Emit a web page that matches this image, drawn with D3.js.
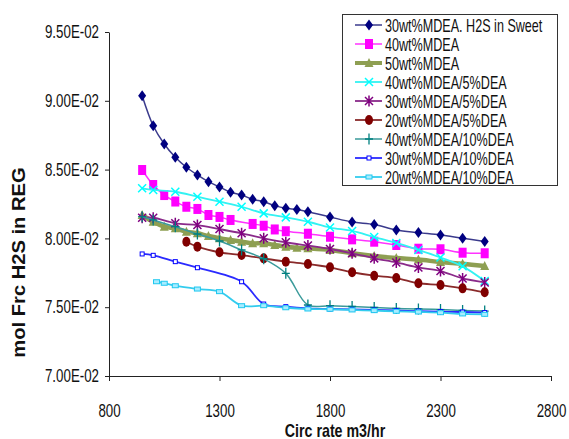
<!DOCTYPE html>
<html><head><meta charset="utf-8">
<script src="https://cdn.jsdelivr.net/npm/d3@7"></script>
<style>body{margin:0;background:#fff}svg{display:block}text{font-family:"Liberation Sans",Arial,sans-serif;fill:#111}</style>
</head><body><svg id="c" width="569" height="439"></svg>
<script>
// ---- data ----
const xTicks = [800, 1300, 1800, 2300, 2800];
const yTicks = [0.07, 0.075, 0.08, 0.085, 0.09, 0.095];
const yTickLabels = ["7.00E-02", "7.50E-02", "8.00E-02", "8.50E-02", "9.00E-02", "9.50E-02"];
const seriesNames = ["30wt%MDEA. H2S in Sweet", "40wt%MDEA", "50wt%MDEA", "40wt%MDEA/5%DEA", "30wt%MDEA/5%DEA",
  "20wt%MDEA/5%DEA", "40wt%MDEA/10%DEA", "30wt%MDEA/10%DEA", "20wt%MDEA/10%DEA"];

const x1 = [950,1000,1050,1100,1150,1200,1250,1300,1350,1400,1450,1500,1550,1600,1650,1700,1800,1900,2000,2100,2200,2300,2400,2500];
const y1 = [0.09037,0.08819,0.08686,0.08589,0.08517,0.08461,0.08412,0.08374,0.08335,0.08315,0.08284,0.08267,0.08238,0.08219,0.0821,0.08194,0.08156,0.08119,0.08101,0.08061,0.08042,0.08025,0.08001,0.07978];
const x2 = [950,1000,1050,1100,1150,1200,1250,1300,1350,1450,1500,1550,1600,1700,1800,1900,2000,2100,2200,2300,2400,2500];
const y2 = [0.08497,0.08388,0.08315,0.08268,0.0823,0.08214,0.0817,0.08156,0.08134,0.08105,0.08092,0.08065,0.08052,0.08034,0.08012,0.07993,0.07976,0.07952,0.07925,0.07921,0.07896,0.07892];
const x3 = [950,1000,1050,1100,1150,1200,1250,1300,1350,1400,1450,1500,1550,1600,1650,1700,1800,1900,2000,2100,2200,2300,2400,2500];
const y3 = [0.0817,0.08121,0.08085,0.08073,0.08049,0.08037,0.08017,0.08001,0.07988,0.07976,0.07964,0.07964,0.07952,0.0794,0.07932,0.07928,0.07916,0.07892,0.07872,0.07857,0.07846,0.07828,0.07815,0.07799];
const x4 = [950,1000,1100,1200,1300,1400,1500,1600,1700,1800,1900,2000,2100,2200,2300,2400,2500];
const y4 = [0.08364,0.08352,0.08339,0.08303,0.08267,0.0823,0.08182,0.08153,0.08121,0.08079,0.08054,0.0801,0.07967,0.07916,0.07861,0.07797,0.0769];
const x5 = [950,1000,1100,1200,1300,1400,1500,1600,1700,1800,1900,2000,2100,2200,2300,2400,2500];
const y5 = [0.0815,0.0815,0.0811,0.08097,0.08068,0.08037,0.08001,0.07972,0.07948,0.07923,0.07892,0.07855,0.07825,0.07789,0.07763,0.07709,0.0768];
const x6 = [1150,1200,1300,1400,1500,1600,1700,1800,1900,2000,2100,2200,2300,2400,2500];
const y6 = [0.07976,0.0794,0.07899,0.07879,0.07855,0.07831,0.07814,0.0779,0.07754,0.07729,0.07712,0.07674,0.07661,0.07637,0.07608];
const x7 = [950,1000,1100,1200,1300,1400,1500,1600,1700,1800,1900,2000,2100,2200,2300,2400,2500];
const y7 = [0.08158,0.08134,0.08085,0.08032,0.07981,0.07916,0.07852,0.07746,0.07516,0.07511,0.07505,0.07498,0.07491,0.07487,0.07483,0.07476,0.07472];
const x8 = [950,1000,1100,1200,1400,1500,1600,1700,1800,1900,2000,2100,2200,2300,2400,2500];
const y8 = [0.07887,0.07877,0.07831,0.07787,0.07685,0.07523,0.07504,0.07492,0.07487,0.07484,0.0748,0.07476,0.07472,0.07468,0.07465,0.07461];
const x9 = [1015,1050,1100,1200,1300,1400,1500,1600,1700,1800,1900,2000,2100,2200,2300,2400,2500];
const y9 = [0.07685,0.07674,0.07656,0.07632,0.07613,0.07511,0.07511,0.07496,0.07487,0.07485,0.0748,0.07475,0.0747,0.07465,0.0746,0.07451,0.07448];

// ---- styles ----
const styles = [
  {color:"#000080", line:"#3a3a8c", lw:1.5, m:"diamond"},
  {color:"#ff00ff", line:"#ff33ff", lw:1.5, m:"square"},
  {color:"#8e9f52", line:"#8e9f52", lw:4.5, m:"triangle"},
  {color:"#00ffff", line:"#33f2f2", lw:1.8, m:"x"},
  {color:"#800080", line:"#8a2a8a", lw:1.8, m:"star"},
  {color:"#800000", line:"#8a2a2a", lw:1.8, m:"circle"},
  {color:"#008080", line:"#3a9a9a", lw:1.5, m:"plus"},
  {color:"#0000ff", line:"#2a2aff", lw:1.8, m:"smallsq"},
  {color:"#1ec8f0", line:"#33ccee", lw:1.8, m:"rect"}
];
const seriesX = [x1,x2,x3,x4,x5,x6,x7,x8,x9];
const seriesY = [y1,y2,y3,y4,y5,y6,y7,y8,y9];

const svg = d3.select("#c");
const x = d3.scaleLinear().domain([800, 2800]).range([109, 551]);
const y = d3.scaleLinear().domain([0.07, 0.095]).range([376, 32]);

function marker(g, type, c) {
  switch (type) {
    case "diamond": g.append("path").attr("d","M0,-5.5L4,0L0,5.5L-4,0Z").attr("fill",c); break;
    case "square": g.append("rect").attr("x",-4).attr("y",-5).attr("width",8).attr("height",10).attr("fill",c); break;
    case "triangle": g.append("path").attr("d","M0,-5L4.5,4L-4.5,4Z").attr("fill",c); break;
    case "x": g.append("path").attr("d","M-4,-4L4,4M-4,4L4,-4").attr("stroke",c).attr("stroke-width",1.5).attr("fill","none"); break;
    case "star": g.append("path").attr("d","M-4,-4L4,4M-4,4L4,-4M0,-5.5L0,5.5").attr("stroke",c).attr("stroke-width",1.5).attr("fill","none"); break;
    case "circle": g.append("ellipse").attr("rx",4).attr("ry",5).attr("fill",c); break;
    case "plus": g.append("path").attr("d","M-4,0L4,0M0,-5.5L0,5.5").attr("stroke",c).attr("stroke-width",1.3).attr("fill","none"); break;
    case "smallsq": g.append("rect").attr("x",-2).attr("y",-2).attr("width",4).attr("height",4).attr("fill","#fff").attr("stroke",c).attr("stroke-width",1); break;
    case "rect": g.append("rect").attr("x",-3).attr("y",-2).attr("width",6).attr("height",4).attr("fill","#a8ecff").attr("stroke",c).attr("stroke-width",1); break;
  }
}

// ---- axes ----
const tsx = 0.74;
const yAxis = d3.axisLeft(y).tickValues(yTicks).tickSize(4).tickSizeOuter(0)
  .tickFormat((d, i) => yTickLabels[i]);
const gy = svg.append("g").attr("transform","translate(109,0)").call(yAxis);
gy.selectAll("text").attr("x", -10/tsx).attr("transform",`scale(${tsx},1)`).style("font-size","18px").attr("fill","#111");

const xAxis = d3.axisBottom(x).tickValues(xTicks).tickSize(5).tickSizeOuter(0).tickFormat(d3.format("d"));
const gx = svg.append("g").attr("transform","translate(0,376)").call(xAxis);
gx.selectAll("text").attr("y", 41).attr("dy", 0).attr("transform",`scale(${tsx},1)`).style("font-size","18px").attr("fill","#111");
[gx, gy].forEach(g => { g.selectAll("path,line").attr("stroke","#222"); g.select(".domain").attr("stroke","#222"); });

svg.append("text").attr("text-anchor","middle")
  .attr("transform","translate(335,437) scale(0.79,1)")
  .style("font-size","18px").style("font-weight","bold").text("Circ rate m3/hr");
svg.append("text").attr("text-anchor","middle")
  .attr("transform","translate(25,262.5) rotate(-90) scale(1.12,1)")
  .style("font-size","18px").style("font-weight","bold").text("mol Frc H2S in REG");

// ---- series ----
const line = d3.line().x(d => x(d[0])).y(d => y(d[1])).curve(d3.curveCatmullRom.alpha(0.5));
seriesX.forEach((xs, i) => {
  const st = styles[i];
  const pts = xs.map((v, j) => [v, seriesY[i][j]]);
  const g = svg.append("g");
  g.append("path").attr("d", line(pts)).attr("fill","none").attr("stroke", st.line).attr("stroke-width", st.lw);
  pts.forEach(p => marker(g.append("g").attr("transform", `translate(${x(p[0])},${y(p[1])})`), st.m, st.color));
});

// ---- legend ----
const lg = svg.append("g");
lg.append("rect").attr("x",342.5).attr("y",14.5).attr("width",215).attr("height",171).attr("fill","#fff").attr("stroke","#333").attr("stroke-width",1);
seriesNames.forEach((name, i) => {
  const st = styles[i];
  const cy = 25 + i * 19;
  lg.append("line").attr("x1",355).attr("x2",382).attr("y1",cy).attr("y2",cy).attr("stroke",st.line).attr("stroke-width",Math.min(st.lw,4));
  marker(lg.append("g").attr("transform",`translate(369,${cy})`), st.m, st.color);
  lg.append("text").attr("transform",`translate(385,${cy+6.5}) scale(0.70,1)`).style("font-size","18px").text(name);
});
</script>
</body></html>
